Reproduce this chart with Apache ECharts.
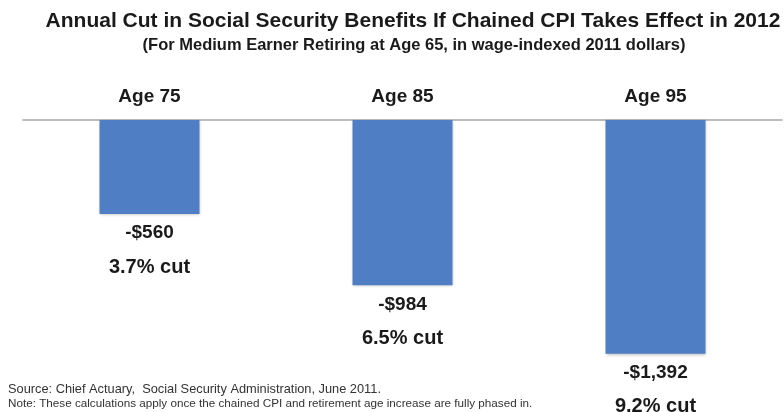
<!DOCTYPE html>
<html>
<head>
<meta charset="utf-8">
<script src="https://cdn.jsdelivr.net/npm/echarts@6/dist/echarts.min.js"></script>
<style>html,body{margin:0;padding:0;background:#fff}#c{width:784px;height:412px}</style>
</head>
<body>
<div id="c"></div>
<script>
const categories = ['Age 75', 'Age 85', 'Age 95'];
const cutValues = [-560, -984, -1392];
const cutLabels = ['-$560', '-$984', '-$1,392'];
const cutPercents = ['3.7% cut', '6.5% cut', '9.2% cut'];

const chart = echarts.init(document.getElementById('c'));
const F = '"Liberation Sans", Arial, sans-serif';
chart.setOption({
  animation: false,
  backgroundColor: '#ffffff',
  title: [
    { text: 'Annual Cut in Social Security Benefits If Chained CPI Takes Effect in 2012', left: 408, top: 6, textAlign: 'center',
      textStyle: { fontFamily: F, fontSize: 21, fontWeight: 'bold', color: '#1a1a1a' } },
    { text: '(For Medium Earner Retiring at Age 65, in wage-indexed 2011 dollars)', left: 409, top: 32, textAlign: 'center',
      textStyle: { fontFamily: F, fontSize: 16.5, fontWeight: 'bold', color: '#1a1a1a' } },
    { text: 'Source: Chief Actuary,  Social Security Administration, June 2011.', left: 3, top: 378,
      textStyle: { fontFamily: F, fontSize: 12.8, fontWeight: 'normal', color: '#333' } },
    { text: 'Note: These calculations apply once the chained CPI and retirement age increase are fully phased in.', left: 3, top: 393,
      textStyle: { fontFamily: F, fontSize: 11.7, fontWeight: 'normal', color: '#333' } }
  ],
  grid: { left: 23, right: 2, top: 120, bottom: 40 },
  xAxis: {
    type: 'category', position: 'top', data: categories,
    axisLine: { lineStyle: { color: '#a6a6a6', width: 1.5 } },
    axisTick: { inside: true, length: 5, lineStyle: { color: '#a6a6a6' } },
    axisLabel: { margin: 14, fontFamily: F, fontSize: 19, fontWeight: 'bold', color: '#1a1a1a' }
  },
  yAxis: { type: 'value', min: -1500, max: 0, show: false, splitLine: { show: false } },
  series: [{
    type: 'bar', data: cutValues, barWidth: 100,
    itemStyle: { color: '#4f7ec5', shadowColor: 'rgba(0,0,0,0.25)', shadowBlur: 3, shadowOffsetY: 1 },
    label: {
      show: true, position: 'bottom', distance: 2,
      formatter: p => '{a|' + cutLabels[p.dataIndex] + '}\n{b|' + cutPercents[p.dataIndex] + '}',
      rich: {
        a: { fontFamily: F, fontSize: 19, fontWeight: 'bold', color: '#1a1a1a', lineHeight: 34 },
        b: { fontFamily: F, fontSize: 20, fontWeight: 'bold', color: '#1a1a1a', lineHeight: 34 }
      }
    }
  }]
});
</script>
</body>
</html>
